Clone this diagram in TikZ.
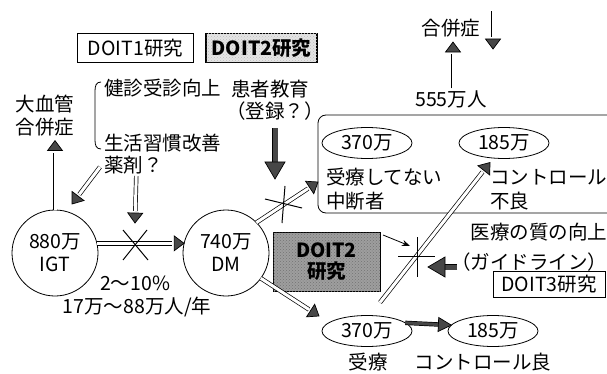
\documentclass[tikz,border=0pt]{standalone}
\usepackage{fontspec}
\setmainfont{Noto Sans CJK JP}
\usetikzlibrary{arrows.meta,calc,shapes.geometric,patterns}
\definecolor{tipgray}{gray}{0.28}
\definecolor{boxgray}{gray}{0.62}
\definecolor{lightbox}{gray}{0.90}
\tikzset{
  headshape/.style={isosceles triangle, isosceles triangle stretches, draw=black,
    fill=tipgray, line width=0.7pt, inner sep=0pt, outer sep=0pt,
    shape border rotate=0, sloped, allow upside down, anchor=apex, pos=1},
}
% #1 start, #2 end, #3 head length, #4 head width, #5 shaft style
\newcommand\GenArrow[5]{%
  \draw[#5, shorten >=#3-3pt] #1 -- #2;
  \path #1 -- #2 node[headshape, minimum width=#3, minimum height=#4] {};}
\newcommand\DblArrow[2]{\GenArrow{#1}{#2}{15pt}{10pt}{dblline}}
\newcommand\FatArrow[2]{\GenArrow{#1}{#2}{20pt}{17pt}{fatline}}
\newcommand\MidArrow[2]{\GenArrow{#1}{#2}{14pt}{13pt}{midline}}
\begin{document}
\begin{tikzpicture}[x=1pt,y=-1pt,
  font=\fontsize{19.5}{23}\selectfont,
  every node/.style={inner sep=0pt, outer sep=0pt},
  frame/.style={draw, line width=0.8pt, minimum height=29pt},
  circ/.style={draw, circle, line width=0.8pt, minimum size=86pt, align=center},
  ell/.style={draw, ellipse, line width=0.8pt, minimum width=90pt, minimum height=31pt},
  dblline/.style={draw, line width=0.7pt, double=white, double distance=3pt},
  fatline/.style={draw, line width=0.7pt, double=tipgray, double distance=5pt},
  midline/.style={draw, line width=0.7pt, double=tipgray, double distance=3pt},
  crossline/.style={draw, line width=1pt},
]
\useasboundingbox (0,0) rectangle (607,374);

% top boxes
\node[frame, minimum width=116pt] (d1) at (135.5,48) {DOIT1研究};
\node[frame, minimum width=111pt, line width=1.3pt, fill=lightbox,
      postaction={pattern=crosshatch dots, pattern color=black!25}] (d2) at (261.5,48) {\bfseries DOIT2研究};

% left texts
\node[align=center] (dk) at (45,116) {大血管\\合併症};
\node[anchor=west] (ks) at (104,88) {健診受診向上};
\node[anchor=west] (sk) at (104,143) {生活習慣改善};
\node[anchor=west] (yk) at (104,165) {薬剤？};
\draw[line width=0.8pt] ($(ks.west)+(-3,-6)$) .. controls ($(ks.west)+(-8,-6)$) and ($(ks.west)+(-9,-2)$) .. ($(ks.west)+(-9,3)$)
   -- ($(sk.west)+(-9,-3)$) .. controls ($(sk.west)+(-9,2)$) and ($(sk.west)+(-8,6)$) .. ($(sk.west)+(-3,6)$);

\node (kj) at (270,89) {患者教育};
\node (tr) at (275,111) {（登録？）};

% circles
\node[circ] (igt) at (55,253) {880万\\IGT};
\node[circ] (dm) at (226,253) {740万\\DM};
\node (r1) at (135,283) {2〜10\%};
\node (r2) at (137,307) {17万〜88万人/年};

% DOIT2 middle box
\node[draw, line width=1pt, minimum width=107pt, minimum height=59pt, fill=boxgray,
      postaction={pattern=crosshatch dots, pattern color=black!55},
      align=center] (d2m) at (326.5,261.5) {\bfseries DOIT2\\[-2pt]\bfseries 研究};

% rounded box
\node[draw, line width=0.8pt, rounded corners=8pt, minimum width=307pt, minimum height=98pt] (bx) at (471.5,164) {};
\node[ell] (u370) at (367,143) {370万};
\node[ell] (u185) at (504,143) {185万};
\node[anchor=west] (jn) at (326,177) {受療してない};
\node[anchor=west] (cd) at (326,201) {中断者};
\node[anchor=east] (cf) at (607,177) {コントロール};
\node[anchor=west] (fr) at (cf.west |- 0,201) {不良};

% top right
\node (gp) at (451,28) {合併症};
\node (n555) at (451,99) {555万人};
\coordinate (g1) at (493,11);
\coordinate (g2) at (493,49);

% right texts
\node[anchor=east] (iq) at (607,232) {医療の質の向上};
\node[anchor=east] (gl) at (607,262) {（ガイドライン）};
\node[frame, minimum width=112pt, minimum height=26pt] (d3) at (549,284.5) {DOIT3研究};

% bottom ellipses
\node[ell] (l370) at (367,331) {370万};
\node[ell] (l185) at (493,331) {185万};
\node (jr) at (368,362) {受療};
\node (cg) at (483,362) {コントロール良};

% crosses
\coordinate (xa) at (135,244);
\coordinate (xb) at (283,204);
\coordinate (xc) at (417,256);

% arrows
\DblArrow{(igt.north)}{($(dk.south)+(10,4)$)}
\DblArrow{($(yk.west)+(-4,2)$)}{($(igt.north)+(17,-6)$)}
\DblArrow{($(yk.south)+(3,2)$)}{($(xa)+(0,-21)$)}
\DblArrow{(igt.13)}{(dm.167)}
\DblArrow{(dm.45)}{($(bx.south west)+(0,-31)$)}
\DblArrow{(dm.-36)}{($(l370.west)+(-3,-15)$)}
\DblArrow{($(l370.north)+(13,-13)$)}{($(u185.south)+(-14,4)$)}
\DblArrow{($(n555.north)+(2,-2)$)}{($(gp.south)+(2,5)$)}
\DblArrow{(g1)}{(g2)}

\FatArrow{($(tr.south)+(0,8)$)}{($(xb)+(-8,-25)$)}
\FatArrow{($(gl.west)+(6,5)$)}{($(xc)+(11,11)$)}
\MidArrow{(l370.12)}{(l185.172)}

\draw[line width=0.8pt, -{Stealth[length=8pt,width=6pt]}] ($(d2m.north east)+(3,3)$) -- ($(xc)+(-7,-10)$);

% cross marks
\draw[crossline] ($(xa)+(-12,-14)$) -- ($(xa)+(13,16)$);
\draw[crossline] ($(xa)+(12,-14)$) -- ($(xa)+(-12,16)$);
\draw[crossline] ($(xb)+(-18,-5)$) -- ($(xb)+(19,4)$);
\draw[crossline] ($(xb)+(2,-18)$) -- ($(xb)+(-1,19)$);
\draw[crossline] ($(xc)+(-19,0)$) -- ($(xc)+(18,0)$);
\draw[crossline] ($(xc)+(0,-19)$) -- ($(xc)+(0,21)$);
\end{tikzpicture}
\end{document}
